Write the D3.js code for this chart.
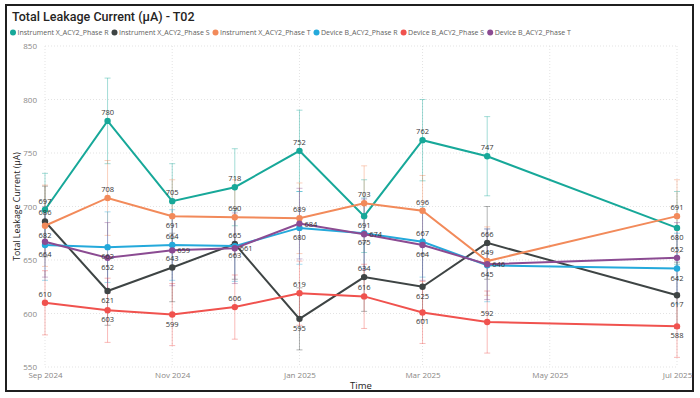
<!DOCTYPE html>
<html>
<head>
<meta charset="utf-8">
<script src="https://cdn.jsdelivr.net/npm/d3@7/dist/d3.min.js"></script>
<style>
  body { margin: 0; background: #fff; }
  text { font-family: "Open Sans", "Noto Sans", sans-serif; }
</style>
</head>
<body>
<svg id="chart" width="700" height="398"></svg>
<script>
// months measured
const months = ["2024-09-01", "2024-10-01", "2024-11-01", "2024-12-01", "2025-01-01",
  "2025-02-01", "2025-03-01", "2025-04-01", "2025-07-01"];
const xTicks = ["2024-09-01", "2024-11-01", "2025-01-01", "2025-03-01", "2025-05-01", "2025-07-01"];
const yTicks = [550, 600, 650, 700, 750, 800, 850];

const seriesNames = ["Instrument X_ACY2_Phase R", "Instrument X_ACY2_Phase S", "Instrument X_ACY2_Phase T",
  "Device B_ACY2_Phase R", "Device B_ACY2_Phase S", "Device B_ACY2_Phase T"];

// mean leakage current (µA)
const instR = [697, 780, 705, 718, 752, 691, 762, 747, 680];
const instS = [686, 621, 643, 665, 595, 634, 625, 666, 617];
const instT = [682, 708, 691, 690, 689, 703, 696, 649, 691];
const devR = [664, 662, 664, 663, 680, 675, 667, 645, 642];
const devS = [610, 603, 599, 606, 619, 616, 601, 592, 588];
const devT = [667, 652, 659, 661, 684, 674, 664, 646, 652];

// error bar half-range (µA)
const instRErr = [34, 40, 35, 36, 38, 34, 38, 37, 34];
const instSErr = [33, 32, 32, 33, 29, 32, 31, 34, 31];
const instTErr = [38, 35, 34, 35, 33, 35, 33, 32, 34];
const devRErr = [33, 33, 33, 33, 34, 33, 33, 34, 33];
const devSErr = [30, 30, 29, 30, 30, 30, 29, 29, 29];
const devTErr = [33, 33, 33, 33, 33, 33, 33, 33, 33];

const colors = ["#17a899", "#3e4444", "#f28a5a", "#24a9db", "#f0524e", "#8b4b92"];

// where each data label sits: t = above, b = below, r = right, n = hidden
const labelSides = [
  ["t", "t", "t", "t", "t", "b", "t", "t", "b"],
  ["t", "b", "t", "t", "b", "t", "b", "t", "b"],
  ["b", "t", "b", "t", "t", "t", "t", "t", "t"],
  ["b", "b", "t", "b", "b", "b", "t", "b", "b"],
  ["t", "b", "b", "t", "t", "t", "b", "t", "b"],
  ["n", "b", "r", "r", "r", "r", "b", "r", "t"]
];

const parse = d3.timeParse("%Y-%m-%d");
const values = [instR, instS, instT, devR, devS, devT];
const errs = [instRErr, instSErr, instTErr, devRErr, devSErr, devTErr];

const series = seriesNames.map((name, i) => ({
  name,
  color: colors[i],
  points: months.map((m, j) => ({
    date: parse(m), value: values[i][j], err: errs[i][j], side: labelSides[i][j]
  }))
}));

const width = 700, height = 398;
const margin = { top: 46, right: 23, bottom: 31, left: 45 };

const svg = d3.select("#chart");

// frame
svg.append("rect")
  .attr("x", 6).attr("y", 5)
  .attr("width", 687).attr("height", 386)
  .attr("fill", "#fff")
  .attr("stroke", "#1f1f1f")
  .attr("stroke-width", 2);

// title
svg.append("text")
  .attr("x", 12).attr("y", 21)
  .attr("font-size", 12.5)
  .attr("font-weight", 500)
  .attr("fill", "#252423")
  .style("font-family", "Roboto, sans-serif")
  .text("Total Leakage Current (µA) - T02");

// legend
const legend = svg.append("g").attr("transform", "translate(13,35)");
let lx = 0;
series.forEach(s => {
  const g = legend.append("g").attr("transform", `translate(${lx},0)`);
  g.append("circle").attr("r", 3).attr("cy", -2.5).attr("fill", s.color);
  const t = g.append("text")
    .attr("x", 4.5).attr("y", 0)
    .attr("font-size", 7)
    .attr("fill", "#605e5c")
    .text(s.name);
  lx += 4.5 + t.node().getComputedTextLength() + 6;
});

const x = d3.scaleTime()
  .domain([parse("2024-09-01"), parse("2025-07-01")])
  .range([margin.left, width - margin.right]);

const y = d3.scaleLinear()
  .domain([550, 850])
  .range([height - margin.bottom, margin.top]);

// gridlines
svg.append("g")
  .selectAll("line")
  .data(yTicks)
  .join("line")
  .attr("x1", margin.left).attr("x2", width - margin.right)
  .attr("y1", d => y(d)).attr("y2", d => y(d))
  .attr("stroke", "#e3e3e3")
  .attr("stroke-dasharray", "1,2");

svg.append("g")
  .selectAll("line")
  .data(xTicks.map(parse))
  .join("line")
  .attr("x1", d => x(d)).attr("x2", d => x(d))
  .attr("y1", margin.top).attr("y2", height - margin.bottom)
  .attr("stroke", "#e3e3e3")
  .attr("stroke-dasharray", "1,2");

// axes
const yAxis = svg.append("g")
  .attr("transform", `translate(${margin.left - 8},0)`)
  .call(d3.axisLeft(y).tickValues(yTicks).tickSize(0).tickPadding(0));
yAxis.select(".domain").remove();
yAxis.selectAll("text").attr("font-size", 8).attr("fill", "#8a8886").style("font-family", "Open Sans, sans-serif");

const xAxis = svg.append("g")
  .attr("transform", `translate(0,${height - margin.bottom + 5})`)
  .call(d3.axisBottom(x).tickValues(xTicks.map(parse)).tickFormat(d3.timeFormat("%b %Y")).tickSize(0).tickPadding(0));
xAxis.select(".domain").remove();
xAxis.selectAll("text").attr("font-size", 8).attr("fill", "#8a8886").style("font-family", "Open Sans, sans-serif");

// axis titles
svg.append("text")
  .attr("transform", `translate(20,${(margin.top + height - margin.bottom) / 2}) rotate(-90)`)
  .attr("text-anchor", "middle")
  .attr("font-size", 8.8)
  .attr("fill", "#252423")
  .text("Total Leakage Current (µA)");

svg.append("text")
  .attr("x", (margin.left + width - margin.right) / 2)
  .attr("y", 389)
  .attr("text-anchor", "middle")
  .attr("font-size", 9.5)
  .attr("fill", "#252423")
  .text("Time");

// error bars
const errG = svg.append("g");
series.forEach(s => {
  const g = errG.append("g").attr("stroke", s.color).attr("stroke-opacity", 0.4).attr("stroke-width", 1);
  g.selectAll(".bar")
    .data(s.points)
    .join("line")
    .attr("x1", d => x(d.date)).attr("x2", d => x(d.date))
    .attr("y1", d => y(d.value - d.err)).attr("y2", d => y(d.value + d.err));
  g.selectAll(".capTop")
    .data(s.points)
    .join("line")
    .attr("x1", d => x(d.date) - 3).attr("x2", d => x(d.date) + 3)
    .attr("y1", d => y(d.value + d.err)).attr("y2", d => y(d.value + d.err));
  g.selectAll(".capBottom")
    .data(s.points)
    .join("line")
    .attr("x1", d => x(d.date) - 3).attr("x2", d => x(d.date) + 3)
    .attr("y1", d => y(d.value - d.err)).attr("y2", d => y(d.value - d.err));
});

// lines and markers
const line = d3.line().x(d => x(d.date)).y(d => y(d.value));
series.forEach(s => {
  svg.append("path")
    .datum(s.points)
    .attr("d", line)
    .attr("fill", "none")
    .attr("stroke", s.color)
    .attr("stroke-width", 2);
  svg.append("g")
    .selectAll("circle")
    .data(s.points)
    .join("circle")
    .attr("cx", d => x(d.date))
    .attr("cy", d => y(d.value))
    .attr("r", 3.2)
    .attr("fill", s.color);
});

// data labels
series.forEach(s => {
  svg.append("g")
    .selectAll("text")
    .data(s.points.filter(d => d.side !== "n"))
    .join("text")
    .attr("x", d => d.side === "r" ? x(d.date) + 5 : x(d.date))
    .attr("y", d => d.side === "t" ? y(d.value) - 6 : d.side === "b" ? y(d.value) + 12 : y(d.value) + 3)
    .attr("text-anchor", d => d.side === "r" ? "start" : "middle")
    .attr("font-size", 7.5)
    .attr("fill", "#333")
    .text(d => d.value);
});
</script>
</body>
</html>
